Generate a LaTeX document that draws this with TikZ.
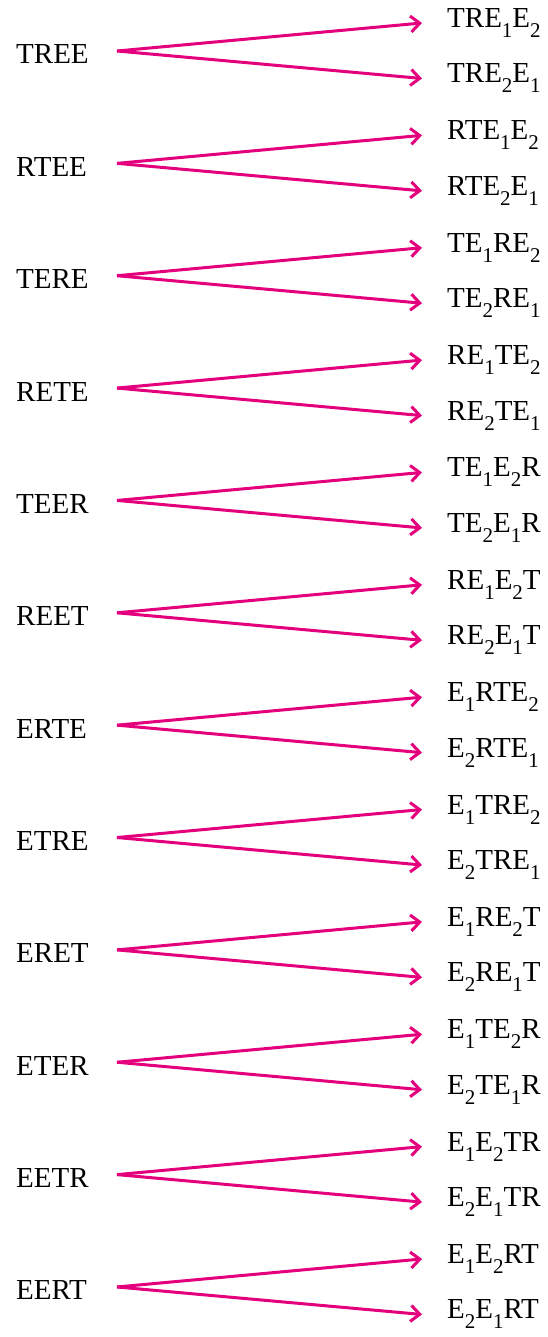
\documentclass[tikz,border=0pt]{standalone}
\usepackage{fontspec}
\setmainfont{Liberation Serif}
\usetikzlibrary{arrows.meta}
\definecolor{arrpink}{RGB}{228,0,124}
\newcommand\subdig[1]{\raisebox{-10pt}{\fontsize{21}{21}\selectfont #1}}
\tikzset{
  lefttxt/.style={anchor=base west, inner sep=0pt, font=\fontsize{29}{29}\selectfont, text=black},
  righttxt/.style={anchor=west, inner sep=0pt, font=\fontsize{29}{29}\selectfont, text=black},
  pinkarrow/.style={draw=arrpink, line width=3pt, -{Straight Barb[length=9pt,width=16pt,line width=3pt]}}
}
\begin{document}
\begin{tikzpicture}[x=1pt,y=-1pt]
\useasboundingbox (0,0) rectangle (548,1337);
\foreach \L/\A/\B [count=\i from 0] in {
  TREE/TRE\subdig1E\subdig2/TRE\subdig2E\subdig1,
  RTEE/RTE\subdig1E\subdig2/RTE\subdig2E\subdig1,
  TERE/TE\subdig1RE\subdig2/TE\subdig2RE\subdig1,
  RETE/RE\subdig1TE\subdig2/RE\subdig2TE\subdig1,
  TEER/TE\subdig1E\subdig2R/TE\subdig2E\subdig1R,
  REET/RE\subdig1E\subdig2T/RE\subdig2E\subdig1T,
  ERTE/E\subdig1RTE\subdig2/E\subdig2RTE\subdig1,
  ETRE/E\subdig1TRE\subdig2/E\subdig2TRE\subdig1,
  ERET/E\subdig1RE\subdig2T/E\subdig2RE\subdig1T,
  ETER/E\subdig1TE\subdig2R/E\subdig2TE\subdig1R,
  EETR/E\subdig1E\subdig2TR/E\subdig2E\subdig1TR,
  EERT/E\subdig1E\subdig2RT/E\subdig2E\subdig1RT}
{
  \pgfmathsetmacro{\dy}{112.36*\i}
  \node[lefttxt] (l\i) at (16, 64+\dy) {\L};
  \coordinate (o\i) at (117, 51+\dy);
  \node[righttxt] (a\i) at (447, 23+\dy) {\A};
  \node[righttxt] (b\i) at (447, 78.5+\dy) {\B};
  \draw[pinkarrow] (o\i) -- ([xshift=-25pt]a\i.west);
  \draw[pinkarrow] (o\i) -- ([xshift=-25pt]b\i.west);
}
\end{tikzpicture}
\end{document}
